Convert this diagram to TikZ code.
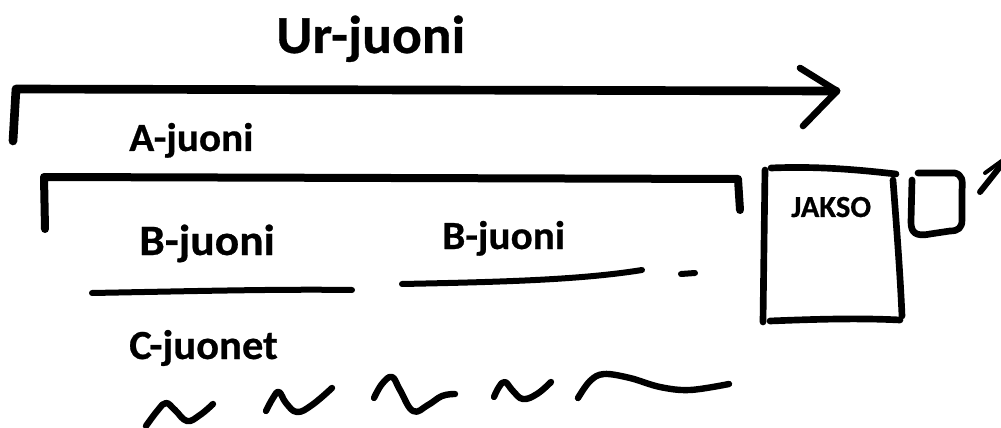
\documentclass[tikz,border=0pt]{standalone}
\usepackage{fontspec}
\setmainfont{Carlito}
\newfontfamily\heavy{Carlito Bold}[FakeBold=0.6]
\begin{document}
\begin{tikzpicture}[x=0.75pt,y=-0.75pt,line cap=round,line join=round,
  lbl/.style={inner sep=0pt,anchor=base west},
  pen/.style={line width=5.5pt,black},
  penB/.style={line width=4.5pt,black},
  penC/.style={line width=4.8pt,black}]
\useasboundingbox (0,0) rectangle (1001,428);
% labels
\node[lbl,font=\fontsize{40}{46}\selectfont\heavy,xscale=1.04] (ur) at (276,53) {Ur-juoni};
\node[lbl,font=\fontsize{30}{36}\selectfont\heavy,xscale=1.03] (a) at (129,151) {A-juoni};
\node[lbl,font=\fontsize{32.5}{38}\selectfont\heavy,xscale=1.05] (b1) at (139,255) {B-juoni};
\node[lbl,font=\fontsize{30}{36}\selectfont\heavy,xscale=1.03] (b2) at (442,249) {B-juoni};
\node[lbl,font=\fontsize{31}{36}\selectfont\heavy,xscale=1.03] (c) at (129,359) {C-juonet};
\node[lbl,font=\fontsize{23}{27}\selectfont\heavy] (jakso) at (791,217) {JAKSO};
% Ur arrow
\draw[pen,line width=6.5pt] (13,141) -- (16,89) -- (836,91);
\draw[pen,line width=5pt] (800,68) -- (837,91) -- (803,126);
% A bracket
\draw[pen,line width=6pt] (45,229) -- (44,177) -- (738,179) -- (740,210);
% B lines
\draw[penB] (92,293) .. controls (200,291) and (280,289) .. (352,290);
\draw[penB] (402,284) .. controls (500,282) and (580,280) .. (642,270);
\draw[penB] (681,274) -- (695,273);
% JAKSO box
\draw[pen,line width=5pt] (765,170) -- (763,322);
\draw[pen,line width=5pt] (771,168) .. controls (820,166) and (860,170) .. (896,174);
\draw[pen,line width=5pt] (893,180) .. controls (896,220) and (900,270) .. (902,316);
\draw[pen,line width=5pt] (770,321) .. controls (820,319) and (860,318) .. (900,320);
% small box
\draw[pen,line width=5pt] (918,173) -- (955,173) .. controls (962,175) and (963,180) .. (962,190)
  -- (962,220) .. controls (962,228) and (958,231) .. (950,231)
  -- (930,234) .. controls (915,237) and (911,232) .. (911,222) -- (912,180);
% cut arrow at right edge
\draw[pen,line width=4.5pt] (980,192) -- (1003,163);
\draw[pen,line width=3pt] (985,173) -- (1003,160);
% C squiggles
\draw[penC] plot[smooth,tension=0.7] coordinates {(146,426) (158,410) (166,403) (175,410) (187,421) (200,415) (213,404)};
\draw[penC] plot[smooth,tension=0.7] coordinates {(266,411) (273,398) (279,392) (286,403) (297,412) (312,405) (332,388)};
\draw[penC] plot[smooth,tension=0.7] coordinates {(374,398) (382,384) (392,377) (400,390) (413,411) (428,405) (442,396) (455,394)};
\draw[penC] plot[smooth,tension=0.7] coordinates {(494,397) (499,387) (505,382) (513,391) (523,399) (537,394) (551,382)};
\draw[penC] plot[smooth,tension=0.6] coordinates {(578,398) (590,381) (604,374) (630,378) (660,387) (690,390) (729,384)};
\end{tikzpicture}
\end{document}
